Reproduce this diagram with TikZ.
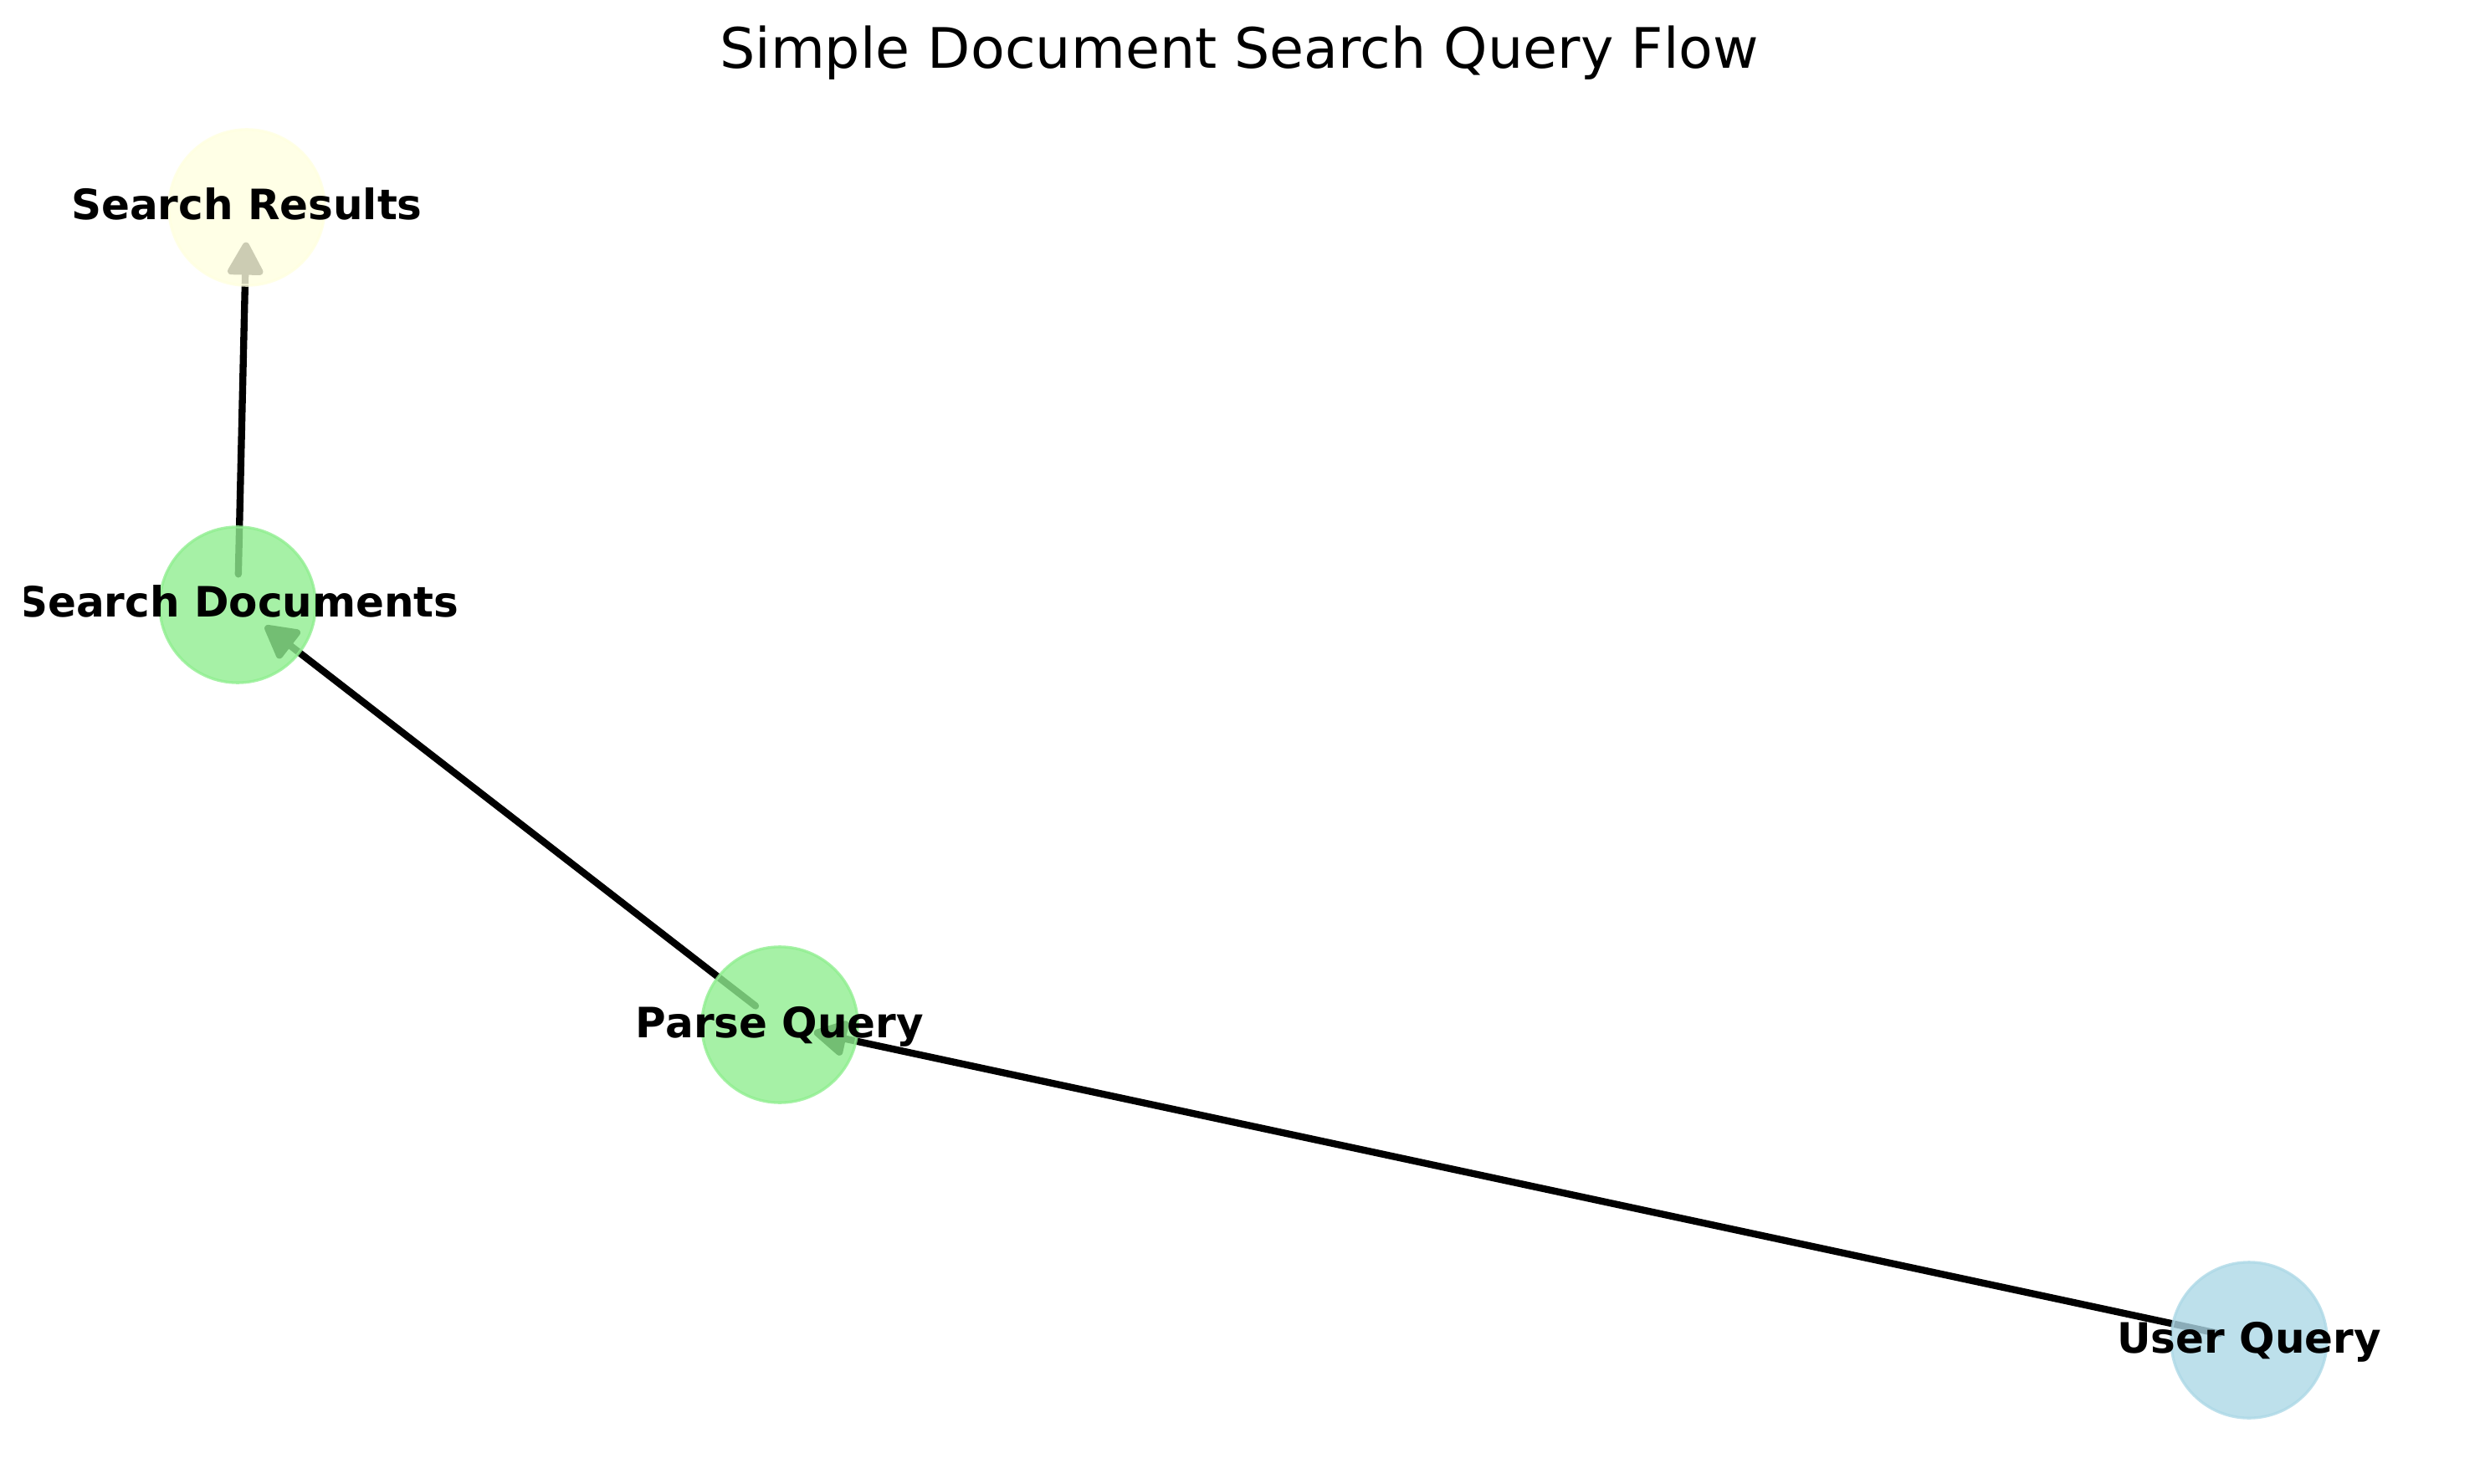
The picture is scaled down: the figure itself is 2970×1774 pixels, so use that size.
\documentclass[tikz,border=0pt]{standalone}
\usepackage{fontspec}
\setmainfont{DejaVu Sans}
\usetikzlibrary{arrows.meta}
\pgfdeclarelayer{background}
\pgfsetlayers{background,main}
\definecolor{nblue}{HTML}{ADD8E6}
\definecolor{ngreen}{HTML}{90EE90}
\definecolor{nyellow}{HTML}{FFFFE0}
\tikzset{
  gnode/.style={circle, minimum size=44.7bp, inner sep=0pt, fill=#1, draw=#1, fill opacity=0.8, draw opacity=0.8, line width=0.8bp},
  lbl/.style={anchor=base, inner sep=0pt, font=\fontsize{12bp}{14bp}\selectfont\bfseries},
  edge/.style={draw=black, line width=2bp, line cap=round, shorten <=8.8bp, shorten >=10bp,
    -{Triangle[length=10.5bp, width=11bp, round]}},
}
\begin{document}
\begin{tikzpicture}[x=0.24bp, y=-0.24bp]
\useasboundingbox (0,0) rectangle (2970,1774);
\node[anchor=base, inner sep=0pt, font=\fontsize{16bp}{19bp}\selectfont] (title) at (1481,82) {Simple Document Search Query Flow};
\node[gnode=nyellow] (sr) at (295,248) {};
\node[gnode=ngreen] (sd) at (284,723) {};
\node[gnode=ngreen] (pq) at (932,1225) {};
\node[gnode=nblue] (uq) at (2688,1602) {};
\begin{scope}
\clip (29,0) rectangle (2970,1774);
\node[lbl] (srl) at (295,263) {Search Results};
\node[lbl] (sdl) at (285,738) {Search Documents};
\node[lbl] (pql) at (932,1240) {Parse Query};
\node[lbl] (uql) at (2688,1617) {User Query};
\end{scope}
\begin{pgfonlayer}{background}
\draw[edge] (uq.center) -- (pq.center);
\draw[edge] (pq.center) -- (sd.center);
\draw[edge] (sd.center) -- (sr.center);
\end{pgfonlayer}
\end{tikzpicture}
\end{document}
